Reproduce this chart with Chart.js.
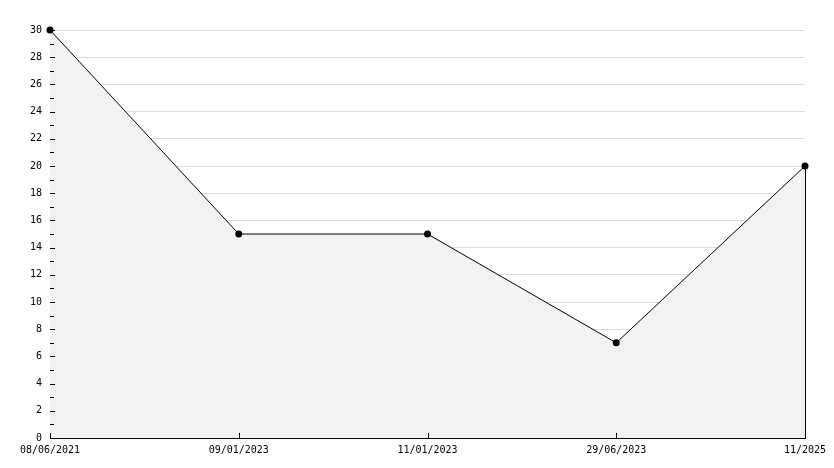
<!DOCTYPE html>
<html>
<head>
<meta charset="utf-8">
<script src="https://cdn.jsdelivr.net/npm/chart.js@4/dist/chart.umd.min.js"></script>
<style>
  html, body { margin: 0; padding: 0; background: #fff; }
  #wrap { width: 834px; height: 468px; }
</style>
</head>
<body>
<div id="wrap"><canvas id="lineChart"></canvas></div>
<script>
const labels = ['08/06/2021', '09/01/2023', '11/01/2023', '29/06/2023', '11/2025'];
const values = [30, 15, 15, 7, 20];
const yMin = 0;
const yMax = 30;
const yStep = 2;

// inner tick marks + right edge of the filled area
const innerTicks = {
  id: 'innerTicks',
  afterDatasetsDraw(chart) {
    const { ctx, chartArea, scales: { x, y } } = chart;
    ctx.save();
    ctx.strokeStyle = '#000';
    ctx.lineWidth = 1;
    ctx.beginPath();
    for (let v = yMin; v <= yMax; v++) {
      const py = Math.round(y.getPixelForValue(v)) + 0.5;
      const len = v % yStep === 0 ? 5 : 4;
      ctx.moveTo(chartArea.left, py);
      ctx.lineTo(chartArea.left + len, py);
    }
    labels.forEach((l, i) => {
      const px = Math.round(x.getPixelForValue(i)) + 0.5;
      ctx.moveTo(px, chartArea.bottom);
      ctx.lineTo(px, chartArea.bottom - 5);
    });
    const last = values.length - 1;
    const ex = Math.round(x.getPixelForValue(last)) + 0.5;
    ctx.moveTo(ex, y.getPixelForValue(values[last]));
    ctx.lineTo(ex, y.getPixelForValue(0));
    ctx.stroke();
    ctx.restore();
  }
};

new Chart(document.getElementById('lineChart'), {
  type: 'line',
  data: {
    labels: labels,
    datasets: [{
      data: values,
      borderColor: '#000',
      borderWidth: 1,
      backgroundColor: '#f2f2f2',
      fill: 'origin',
      tension: 0,
      clip: false,
      pointRadius: 3.5,
      pointBackgroundColor: '#000',
      pointBorderColor: '#000',
      pointBorderWidth: 0
    }]
  },
  options: {
    responsive: true,
    maintainAspectRatio: false,
    animation: false,
    layout: { padding: { top: 30, right: 29, left: 0, bottom: 0 } },
    plugins: {
      legend: { display: false },
      tooltip: { enabled: false }
    },
    scales: {
      x: {
        offset: false,
        grid: { display: false, drawTicks: false },
        border: { color: '#000', width: 1 },
        ticks: {
          color: '#000',
          font: { family: 'DejaVu Sans Mono', size: 10 },
          padding: 6,
          maxRotation: 0,
          autoSkip: false
        },
        afterFit(scale) { scale.height = 30; }
      },
      y: {
        min: yMin,
        max: yMax,
        grid: { color: '#dddddd', drawTicks: false },
        border: { color: '#000', width: 1 },
        ticks: {
          stepSize: yStep,
          color: '#000',
          font: { family: 'DejaVu Sans Mono', size: 10 },
          padding: 8
        },
        afterFit(scale) { scale.width = 50; }
      }
    }
  },
  plugins: [innerTicks]
});
</script>
</body>
</html>
